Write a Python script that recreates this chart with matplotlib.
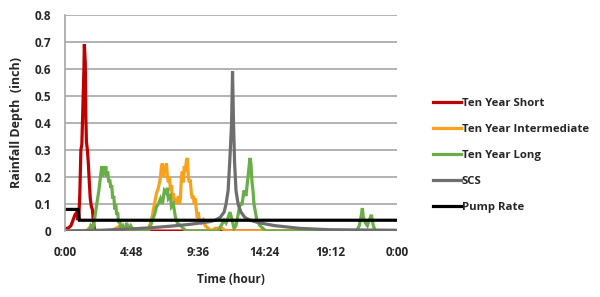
import matplotlib
matplotlib.use("Agg")
import matplotlib.pyplot as plt

plt.rcParams['font.family'] = ['Open Sans', 'DejaVu Sans']

# time in hours, rainfall depth in inches
short_t = [0.00, 0.22, 0.43, 0.58, 0.72, 0.86, 0.94, 1.01, 1.08, 1.15, 1.22, 1.29, 1.37, 1.40,
           1.47, 1.51, 1.55, 1.62, 1.69, 1.76, 1.83, 1.91, 1.98, 2.05, 2.12, 2.23, 24.0]
short_v = [0.01, 0.01, 0.02, 0.04, 0.06, 0.07, 0.04, 0.06, 0.15, 0.30, 0.32, 0.45, 0.60, 0.69,
           0.62, 0.42, 0.33, 0.30, 0.25, 0.18, 0.12, 0.09, 0.08, 0.04, 0.01, 0.00, 0.00]

inter_t = [0.00, 1.51, 1.73, 2.23, 3.31, 3.67, 4.03, 4.39, 5.83, 6.04, 6.19, 6.33, 6.47, 6.62,
           6.76, 6.91, 6.98, 7.05, 7.12, 7.19, 7.27, 7.34, 7.41, 7.48, 7.55, 7.63, 7.70, 7.77,
           7.84, 7.91, 8.06, 8.13, 8.20, 8.27, 8.35, 8.42, 8.49, 8.56, 8.63, 8.71, 8.78, 8.85,
           8.92, 8.99, 9.06, 9.14, 9.21, 9.28, 9.35, 9.42, 9.50, 9.57, 9.64, 9.71, 9.86, 10.00,
           10.14, 10.36, 10.58, 10.86, 11.37, 11.65, 24.0]
inter_v = [0.00, 0.00, 0.01, 0.00, 0.00, 0.01, 0.02, 0.00, 0.00, 0.01, 0.03, 0.06, 0.10, 0.14,
           0.16, 0.20, 0.24, 0.25, 0.20, 0.24, 0.22, 0.25, 0.20, 0.18, 0.20, 0.15, 0.17, 0.12,
           0.14, 0.10, 0.12, 0.10, 0.13, 0.10, 0.12, 0.20, 0.22, 0.18, 0.24, 0.22, 0.26, 0.27,
           0.20, 0.18, 0.19, 0.14, 0.12, 0.13, 0.10, 0.12, 0.08, 0.05, 0.07, 0.04, 0.03, 0.04,
           0.02, 0.01, 0.00, 0.01, 0.01, 0.00, 0.00]

long_t = [0.00, 1.73, 1.87, 2.01, 2.16, 2.30, 2.45, 2.59, 2.66, 2.73, 2.81, 2.88, 2.95, 3.02,
          3.09, 3.17, 3.24, 3.31, 3.38, 3.45, 3.53, 3.60, 3.67, 3.74, 3.81, 3.88, 3.96, 4.03,
          4.17, 4.32, 4.46, 4.60, 4.75, 4.96, 6.04, 6.19, 6.33, 6.47, 6.62, 6.76, 6.91, 7.05,
          7.19, 7.34, 7.41, 7.48, 7.63, 7.70, 7.84, 7.99, 8.13, 8.35, 8.56, 8.78, 11.08, 11.29,
          11.51, 11.65, 11.80, 11.94, 12.09, 12.23, 12.37, 12.52, 12.66, 12.81, 12.95, 13.09,
          13.24, 13.38, 13.45, 13.53, 13.60, 13.67, 13.74, 13.88, 14.10, 14.32, 14.53, 21.08,
          21.29, 21.44, 21.51, 21.58, 21.73, 21.87, 22.01, 22.16, 22.30, 22.45, 24.0]
long_v = [0.00, 0.00, 0.02, 0.01, 0.05, 0.10, 0.15, 0.21, 0.24, 0.20, 0.24, 0.21, 0.24, 0.20,
          0.22, 0.18, 0.19, 0.16, 0.17, 0.12, 0.13, 0.08, 0.10, 0.06, 0.07, 0.03, 0.04, 0.01,
          0.02, 0.00, 0.03, 0.01, 0.02, 0.00, 0.00, 0.02, 0.04, 0.06, 0.09, 0.10, 0.12, 0.10,
          0.15, 0.14, 0.16, 0.12, 0.13, 0.09, 0.10, 0.05, 0.03, 0.02, 0.01, 0.00, 0.00, 0.02,
          0.04, 0.03, 0.05, 0.07, 0.04, 0.01, 0.02, 0.06, 0.10, 0.10, 0.15, 0.13, 0.20, 0.27,
          0.25, 0.18, 0.15, 0.10, 0.08, 0.04, 0.02, 0.01, 0.00, 0.00, 0.02, 0.06, 0.085, 0.05,
          0.03, 0.02, 0.04, 0.06, 0.02, 0.00, 0.00]

scs_t = [0.00, 2.59, 4.75, 6.19, 7.63, 9.06, 9.78, 10.50, 10.86, 11.22, 11.51, 11.65, 11.80,
         11.91, 11.98, 12.05, 12.12, 12.19, 12.27, 12.37, 12.52, 12.73, 13.02, 13.38, 14.10,
         15.18, 16.98, 19.14, 24.0]
scs_v = [0.000, 0.003, 0.008, 0.012, 0.018, 0.025, 0.030, 0.035, 0.040, 0.050, 0.070, 0.100,
         0.150, 0.250, 0.320, 0.400, 0.590, 0.400, 0.250, 0.150, 0.100, 0.070, 0.050, 0.040,
         0.030, 0.020, 0.010, 0.005, 0.003]

pump_t = [0.0, 0.95, 1.05, 24.0]
pump_v = [0.08, 0.08, 0.04, 0.04]

series = [
    ("Ten Year Short", short_t, short_v, "#C00000"),
    ("Ten Year Intermediate", inter_t, inter_v, "#F9A11B"),
    ("Ten Year Long", long_t, long_v, "#6AAE47"),
    ("SCS", scs_t, scs_v, "#6E6E6E"),
    ("Pump Rate", pump_t, pump_v, "#000000"),
]

xticks = [0, 4.8, 9.6, 14.4, 19.2, 24]
xticklabels = ["0:00", "4:48", "9:36", "14:24", "19:12", "0:00"]
yticks = [0, 0.1, 0.2, 0.3, 0.4, 0.5, 0.6, 0.7, 0.8]
yticklabels = ["0", "0.1", "0.2", "0.3", "0.4", "0.5", "0.6", "0.7", "0.8"]

fig = plt.figure(figsize=(6.0, 2.97), dpi=100)
ax = fig.add_axes([0.1083, 0.222, 0.553, 0.729])

for name, t, v, c in series:
    ax.plot(t, v, color=c, lw=2.3, label=name, solid_joinstyle='miter')

ax.set_xlim(0, 24)
ax.set_ylim(0, 0.8)
ax.set_xticks(xticks)
ax.set_xticklabels(xticklabels)
ax.set_yticks(yticks)
ax.set_yticklabels(yticklabels)
ax.grid(axis='y', color='#A6A6A6', lw=1.2)
ax.set_axisbelow(True)
for s in ['top', 'right', 'bottom']:
    ax.spines[s].set_visible(False)
ax.spines['left'].set_color('#A6A6A6')
ax.spines['left'].set_linewidth(1.2)
ax.tick_params(length=0, labelsize=8.5, labelcolor='#262626', pad=11)
ax.tick_params(axis='y', pad=10)
for lab in ax.get_xticklabels() + ax.get_yticklabels():
    lab.set_fontweight('bold')

ax.set_xlabel("Time (hour)", fontsize=8.5, fontweight='bold', color='#262626', labelpad=10)
ax.set_ylabel("Rainfall Depth  (inch)", fontsize=9, fontweight='bold', color='#262626', labelpad=8)

leg = fig.legend(loc='upper left', bbox_to_anchor=(0.705, 0.703), frameon=False,
                 handlelength=2.4, handletextpad=0.1, labelspacing=1.31,
                 prop={'weight': 'bold', 'size': 8.2})
for txt in leg.get_texts():
    txt.set_color('#262626')

fig.savefig("out.png", dpi=100)
